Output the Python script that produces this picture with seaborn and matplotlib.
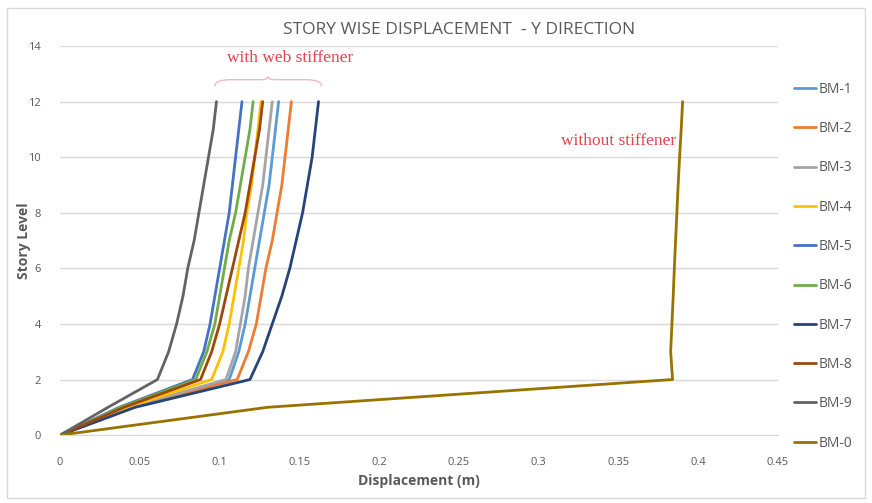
import numpy as np
import pandas as pd
import matplotlib
matplotlib.use("Agg")
import matplotlib.pyplot as plt
from matplotlib.path import Path
from matplotlib.patches import PathPatch, Rectangle
import seaborn as sns

# story levels 0..12
stories = [0, 1, 2, 3, 4, 5, 6, 7, 8, 9, 10, 11, 12]

# displacement (m), one list per beam model
bm1 = [0, 0.044, 0.106, 0.112, 0.116, 0.119, 0.122, 0.125, 0.128, 0.131, 0.133, 0.135, 0.137]
bm2 = [0, 0.045, 0.111, 0.118, 0.123, 0.126, 0.129, 0.133, 0.136, 0.139, 0.141, 0.143, 0.145]
bm3 = [0, 0.043, 0.104, 0.110, 0.113, 0.116, 0.118, 0.121, 0.124, 0.127, 0.129, 0.131, 0.133]
bm4 = [0, 0.042, 0.095, 0.102, 0.106, 0.109, 0.112, 0.115, 0.117, 0.120, 0.122, 0.124, 0.126]
bm5 = [0, 0.037, 0.083, 0.090, 0.094, 0.097, 0.100, 0.103, 0.106, 0.108, 0.110, 0.112, 0.114]
bm6 = [0, 0.038, 0.085, 0.092, 0.097, 0.100, 0.103, 0.106, 0.110, 0.113, 0.116, 0.119, 0.121]
bm7 = [0, 0.047, 0.119, 0.127, 0.133, 0.139, 0.144, 0.148, 0.152, 0.155, 0.158, 0.160, 0.162]
bm8 = [0, 0.040, 0.088, 0.095, 0.100, 0.104, 0.108, 0.112, 0.116, 0.119, 0.122, 0.125, 0.127]
bm9 = [0, 0.030, 0.061, 0.068, 0.073, 0.077, 0.080, 0.084, 0.087, 0.090, 0.093, 0.096, 0.098]
bm0 = [0, 0.130, 0.384, 0.3828, 0.3836, 0.3844, 0.3851, 0.3859, 0.3867, 0.3875, 0.3884, 0.3894, 0.3903]

names = ["BM-1", "BM-2", "BM-3", "BM-4", "BM-5", "BM-6", "BM-7", "BM-8", "BM-9", "BM-0"]
series = [bm1, bm2, bm3, bm4, bm5, bm6, bm7, bm8, bm9, bm0]
colors = ["#5B9BD5", "#ED7D31", "#A5A5A5", "#FFC000", "#4472C4",
          "#70AD47", "#264478", "#9E480E", "#636363", "#997300"]

rows = []
for name, vals in zip(names, series):
    for s, d in zip(stories, vals):
        rows.append({"model": name, "story": s, "disp": d})
df = pd.DataFrame(rows)

sns.set_style("white")
plt.rcParams["font.family"] = ["Open Sans", "DejaVu Sans"]

fig = plt.figure(figsize=(8.72, 5.03), dpi=100)
ax = fig.add_axes([0.069, 0.135, 0.823, 0.7735])

sns.lineplot(data=df, x="disp", y="story", hue="model", hue_order=names,
             palette=colors, estimator=None, sort=False, linewidth=2, ax=ax)

ax.set_xlim(0, 0.45)
ax.set_ylim(0, 14)
ax.set_xticks(np.arange(0, 0.451, 0.05))
ax.set_xticklabels(["0", "0.05", "0.1", "0.15", "0.2", "0.25", "0.3", "0.35", "0.4", "0.45"])
ax.set_yticks(range(0, 15, 2))
ax.tick_params(axis="x", colors="#595959", labelsize=8, length=0, pad=16)
ax.tick_params(axis="y", colors="#595959", labelsize=8, length=0, pad=14)
ax.grid(axis="y", color="#D9D9D9", linewidth=1)
for sp in ["top", "right", "left"]:
    ax.spines[sp].set_visible(False)
ax.spines["bottom"].set_color("#D9D9D9")

ax.set_xlabel("Displacement (m)", fontsize=10, fontweight="bold", color="#595959", labelpad=4)
ax.set_ylabel("Story Level", fontsize=10, fontweight="bold", color="#595959", labelpad=-2)
fig.text(0.526, 0.94, "STORY WISE DISPLACEMENT  - Y DIRECTION", fontsize=12.5,
         color="#595959", ha="center", va="center")

leg = ax.legend(loc="upper left", bbox_to_anchor=(1.005, 0.94), frameon=False,
                fontsize=10, labelspacing=1.75, handlelength=1.6, handletextpad=0.2)
for t in leg.get_texts():
    t.set_color("#595959")

# annotations
ax.text(0.144, 13.57, "with web stiffener", color="#E8414F", fontsize=12.5,
        family="Liberation Serif", ha="center", va="center")
ax.text(0.386, 10.58, "without stiffener", color="#E8414F", fontsize=12.5,
        family="Liberation Serif", ha="right", va="center")

# curly brace over the stiffened curves
x0, x1, yb, h = 0.097, 0.164, 12.55, 0.3
xm = (x0 + x1) / 2
verts = [(x0, yb), (x0, yb + h * 0.8), (x0 + 0.01, yb + h * 0.8), (xm - 0.004, yb + h * 0.8),
         (xm, yb + h * 0.8), (xm, yb + h * 1.2)]
codes = [Path.MOVETO, Path.CURVE3, Path.CURVE3, Path.LINETO, Path.CURVE3, Path.CURVE3]
ax.add_patch(PathPatch(Path(verts, codes), fill=False, edgecolor="#F2B8BE", lw=1, clip_on=False))
verts2 = [(x1, yb), (x1, yb + h * 0.8), (x1 - 0.01, yb + h * 0.8), (xm + 0.004, yb + h * 0.8),
          (xm, yb + h * 0.8), (xm, yb + h * 1.2)]
ax.add_patch(PathPatch(Path(verts2, codes), fill=False, edgecolor="#F2B8BE", lw=1, clip_on=False))

# light chart-area border
fig.patches.append(Rectangle((0.008, 0.01), 0.984, 0.975, transform=fig.transFigure,
                             fill=False, edgecolor="#D9D9D9", lw=1))

fig.savefig("out.png", dpi=100)
